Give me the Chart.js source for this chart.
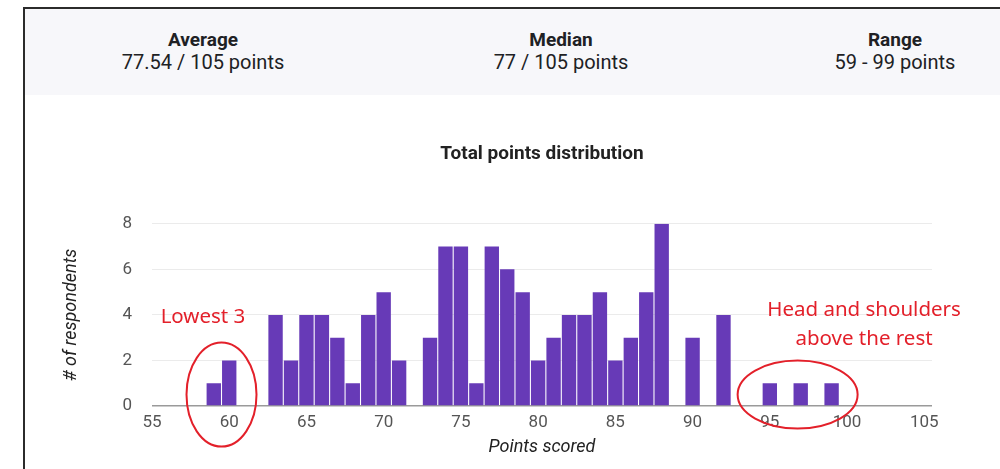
<!DOCTYPE html>
<html>
<head>
<meta charset="utf-8">
<script src="https://cdn.jsdelivr.net/npm/chart.js@4.4.1/dist/chart.umd.min.js"></script>
<style>
  html, body { margin: 0; padding: 0; background: #fff; }
  body { width: 1000px; height: 469px; position: relative; overflow: hidden; font-family: Roboto, sans-serif; }
  #frame { position: absolute; left: 23px; top: 7px; right: 0; bottom: 0; border-left: 2px solid #2b2b2b; border-top: 2px solid #2b2b2b; }
  #summary { position: absolute; left: 0; top: 0; right: 0; height: 86px; background: #f7f7fa; }
  .stat { position: absolute; top: 19px; width: 260px; margin-left: -130px; text-align: center; color: #202124; font-size: 20px; line-height: 23px; }
  .stat b { font-weight: 700; font-size: 19px; display: block; }
  #wrap { position: absolute; left: 24px; top: 95px; width: 976px; height: 374px; }
</style>
</head>
<body>
<div id="frame">
  <div id="summary">
    <div class="stat" style="left:178px"><b>Average</b>77.54 / 105 points</div>
    <div class="stat" style="left:536px"><b>Median</b>77 / 105 points</div>
    <div class="stat" style="left:870px"><b>Range</b>59 - 99 points</div>
  </div>
</div>
<div id="wrap"><canvas id="dist-chart"></canvas></div>
<script>
// 得分分布
const scores = [59, 60, 63, 64, 65, 66, 67, 68, 69, 70, 71, 73, 74, 75, 76, 77, 78, 79, 80,
                81, 82, 83, 84, 85, 86, 87, 88, 90, 92, 95, 97, 99];
const counts = [1, 2, 4, 2, 4, 4, 3, 1, 4, 5, 2, 3, 7, 7, 1, 7, 6, 5, 2,
                3, 4, 4, 5, 2, 3, 5, 8, 3, 4, 1, 1, 1];
const xTicks = [55, 60, 65, 70, 75, 80, 85, 90, 95, 100, 105];
const yTicks = [0, 2, 4, 6, 8];

const points = scores.map((s, i) => ({ x: s, y: counts[i] }));

// 红色标注（圆圈 + 文字）
const notesPlugin = {
    id: 'notes',
    afterDraw(chart) {
        const { ctx, scales: { x, y } } = chart;
        ctx.save();
        ctx.strokeStyle = '#e3202a';
        ctx.fillStyle = '#e3202a';
        ctx.lineWidth = 2;
        ctx.beginPath();
        ctx.ellipse(x.getPixelForValue(59.5), y.getPixelForValue(0.5), 35, 52, 0, 0, Math.PI * 2);
        ctx.stroke();
        ctx.beginPath();
        ctx.ellipse(x.getPixelForValue(96.8), y.getPixelForValue(0.5), 60, 34, 0, 0, Math.PI * 2);
        ctx.stroke();
        ctx.font = '20.5px "Noto Sans", sans-serif';
        ctx.textAlign = 'center';
        ctx.textBaseline = 'middle';
        ctx.fillText('Lowest 3', x.getPixelForValue(58.3), y.getPixelForValue(3.9));
        ctx.fillText('Head and shoulders', x.getPixelForValue(101.1), y.getPixelForValue(4.2));
        ctx.fillText('above the rest', x.getPixelForValue(101.1), y.getPixelForValue(2.95));
        ctx.restore();
    }
};

const ctx = document.getElementById('dist-chart').getContext('2d');
new Chart(ctx, {
    type: 'bar',
    data: {
        datasets: [{
            label: '# of respondents',
            data: points,
            backgroundColor: '#673ab7',
            borderWidth: 0,
            barPercentage: 0.93,
            categoryPercentage: 1
        }]
    },
    options: {
        responsive: true,
        maintainAspectRatio: false,
        animation: false,
        layout: { padding: { left: 0, right: 68, top: 0, bottom: 0 } },
        plugins: {
            legend: { display: false },
            tooltip: { enabled: false },
            title: {
                display: true,
                fullSize: false,
                text: 'Total points distribution',
                color: '#222',
                font: { family: 'Roboto', size: 19, weight: 'bold' },
                padding: { top: 48, bottom: 58 }
            }
        },
        scales: {
            x: {
                type: 'linear',
                offset: false,
                min: 55,
                max: 105.5,
                grid: { display: false, drawTicks: false },
                border: { display: false },
                afterBuildTicks: axis => { axis.ticks = xTicks.map(v => ({ value: v })); },
                afterFit: axis => { axis.height = 63; },
                ticks: {
                    color: '#555',
                    font: { family: 'Roboto', size: 17 },
                    padding: 7,
                    maxRotation: 0
                },
                title: {
                    display: true,
                    text: 'Points scored',
                    color: '#222',
                    font: { family: 'Roboto', size: 18, style: 'italic' },
                    padding: { top: 0, bottom: 11 }
                }
            },
            y: {
                min: 0,
                max: 8,
                grid: {
                    drawTicks: false,
                    color: c => c.tick.value === 0 ? '#9a9a9a' : '#ebebeb',
                    lineWidth: c => c.tick.value === 0 ? 1.5 : 1
                },
                border: { display: false },
                afterBuildTicks: axis => { axis.ticks = yTicks.map(v => ({ value: v })); },
                afterFit: axis => { axis.width = 128; },
                ticks: {
                    color: '#555',
                    font: { family: 'Roboto', size: 17 },
                    padding: 20
                },
                title: {
                    display: true,
                    text: '# of respondents',
                    color: '#222',
                    font: { family: 'Roboto', size: 18, style: 'italic' },
                    padding: { top: 37, bottom: 0 }
                }
            }
        }
    },
    plugins: [notesPlugin]
});
</script>
</body>
</html>
